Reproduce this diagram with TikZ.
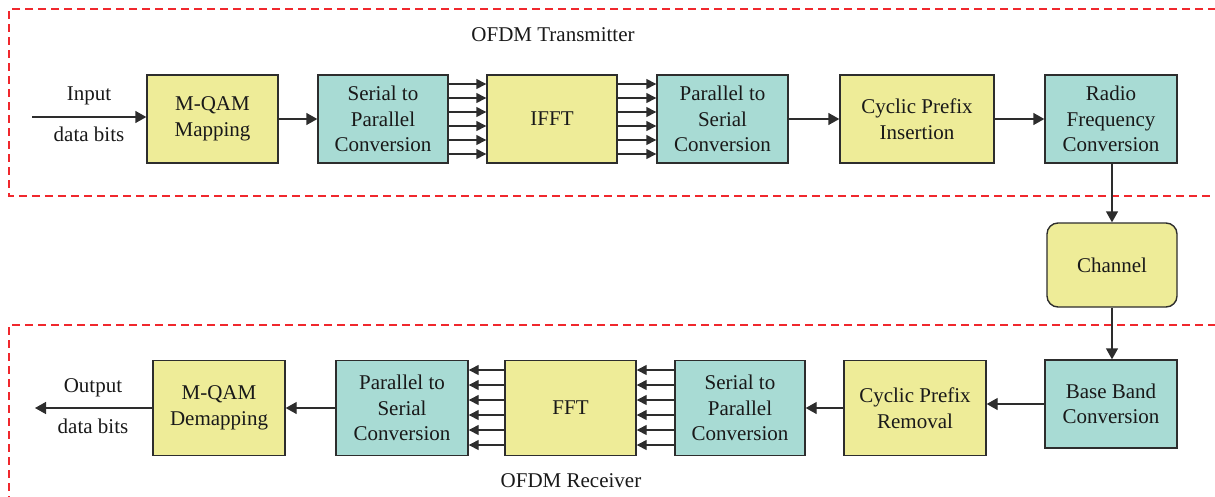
\documentclass[tikz,border=0pt]{standalone}
\usepackage{fontspec}
\setmainfont{Liberation Serif}
\usetikzlibrary{arrows.meta}
\definecolor{boxyellow}{RGB}{238,236,152}
\definecolor{boxteal}{RGB}{168,219,212}
\definecolor{edgegray}{RGB}{45,45,45}
\definecolor{dashred}{RGB}{240,40,45}
\definecolor{txt}{RGB}{25,25,25}
\tikzset{
  blk/.style={draw=edgegray, line width=1.4pt, align=center, text=txt,
    font=\fontsize{21}{25.5}\selectfont, inner sep=0pt, minimum height=88pt},
  yel/.style={blk, fill=boxyellow},
  teal/.style={blk, fill=boxteal},
  conn/.style={draw=edgegray, line width=1.4pt, -{Triangle[length=11pt,width=12pt]}},
  pconn/.style={draw=edgegray, line width=1.4pt, -{Triangle[length=10pt,width=10pt]}},
  frame/.style={draw=dashred, line width=1.2pt, dash pattern=on 8pt off 5pt},
  lbl/.style={text=txt, font=\fontsize{21}{25.5}\selectfont, inner sep=0pt}
}
\begin{document}
\begin{tikzpicture}[x=1pt,y=-1pt]
\useasboundingbox (0,0) rectangle (1215,496);
% frames
\draw[frame] (1216,9) -- (9,9) -- (9,196) -- (1216,196);
\draw[frame] (1216,325) -- (9,325) -- (9,497);
\node[lbl] (txlbl) at (553,35) {OFDM Transmitter};
\node[lbl] (rxlbl) at (571,481) {OFDM Receiver};
% transmitter
\node[yel, minimum width=131pt] (mqam) at (212.5,119) {M-QAM\\Mapping};
\node[teal, minimum width=130pt] (s2p) at (383,119) {Serial to\\Parallel\\Conversion};
\node[yel, minimum width=130pt] (ifft) at (552,119) {IFFT};
\node[teal, minimum width=131pt] (p2s) at (722.5,119) {Parallel to\\Serial\\Conversion};
\node[yel, minimum width=154pt] (cpi) at (917,119) {Cyclic Prefix\\Insertion};
\node[teal, minimum width=132pt] (rf) at (1111,119) {Radio\\Frequency\\Conversion};
% channel
\node[yel, minimum width=130pt, minimum height=84pt, rounded corners=11pt] (ch) at (1112,265) {Channel};
% receiver
\node[teal, minimum width=132pt] (bb) at (1111,404) {Base Band\\Conversion};
\node[yel, minimum width=142pt, minimum height=95pt] (cpr) at (915,408) {Cyclic Prefix\\Removal};
\node[teal, minimum width=130pt, minimum height=95pt] (rs2p) at (740,408) {Serial to\\Parallel\\Conversion};
\node[yel, minimum width=131pt, minimum height=95pt] (fft) at (570.5,408) {FFT};
\node[teal, minimum width=132pt, minimum height=95pt] (rp2s) at (402,408) {Parallel to\\Serial\\Conversion};
\node[yel, minimum width=132pt, minimum height=95pt] (demap) at (219,408) {M-QAM\\Demapping};
% input / output
\coordinate (in) at (32,117);
\coordinate (out) at (35,408);
\node[lbl] (inlbl1) at (89,96) {Input};
\node[lbl] (inlbl2) at (89,134) {data bits};
\node[lbl] (outlbl1) at (93,388) {Output};
\node[lbl] (outlbl2) at (93,426) {data bits};
% tx connectors
\draw[conn] (in) -- (in -| mqam.west);
\draw[conn] (mqam) -- (s2p);
\foreach \d in {-35,-21,-7,7,21,35}{
  \draw[pconn] ([yshift=\d pt]s2p.east) -- ([yshift=\d pt]ifft.west);
  \draw[pconn] ([yshift=\d pt]ifft.east) -- ([yshift=\d pt]p2s.west);
}
\draw[conn] (p2s) -- (cpi);
\draw[conn] (cpi) -- (rf);
\draw[conn] (rf.south -| ch.north) -- (ch.north);
\draw[conn] (ch.south) -- (ch.south |- bb.north);
% rx connectors
\draw[conn] (bb.west) -- (bb.west -| cpr.east);
\draw[conn] (cpr) -- (rs2p);
\foreach \d in {-37,-22,-7,8,23,38}{
  \draw[pconn] ([yshift=\d pt]rs2p.west) -- ([yshift=\d pt]fft.east);
  \draw[pconn] ([yshift=\d pt]fft.west) -- ([yshift=\d pt]rp2s.east);
}
\draw[conn] (rp2s) -- (demap);
\draw[conn] (demap.west |- out) -- (out);
\end{tikzpicture}
\end{document}
